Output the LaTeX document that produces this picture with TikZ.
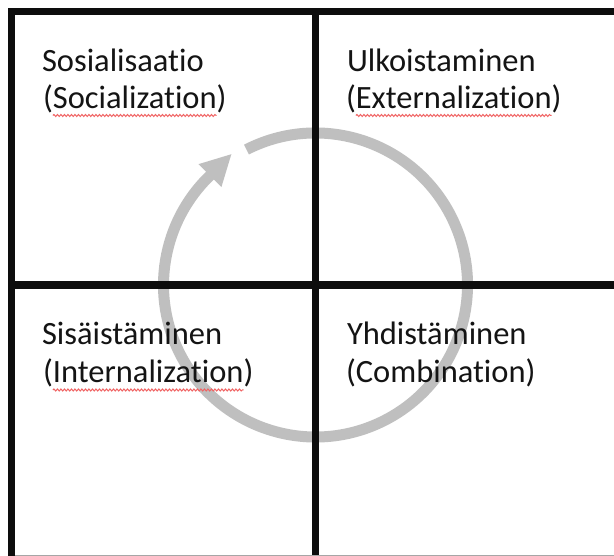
\documentclass[tikz,border=0pt]{standalone}
\usepackage{fontspec}
\setmainfont{Carlito}[Ligatures={NoCommon}]
\usetikzlibrary{arrows.meta,decorations.pathmorphing}
\definecolor{ringgray}{RGB}{191,191,191}
\definecolor{gridblack}{RGB}{13,13,13}
\definecolor{spellred}{RGB}{240,100,100}
\tikzset{
  lbl/.style={inner sep=0pt, outer sep=0pt, anchor=base west, font=\fontsize{32.5}{38}\selectfont, text=black!92},
  gridline/.style={draw=gridblack, line width=7.5pt},
  ring/.style={draw=ringgray, line width=11pt},
  squig/.style={draw=spellred, line width=1pt, decorate,
    decoration={snake, segment length=3.5pt, amplitude=1pt}},
}
\begin{document}
\begin{tikzpicture}[x=1pt,y=1pt]
  \useasboundingbox (0,0) rectangle (614,556);
  \fill[white] (0,0) rectangle (614,556);

  % circular cycle arrow, centred on the crossing of the grid
  \coordinate (c) at (315.5,271);
  \draw[ring, -{Triangle[length=31pt,width=30pt]}]
    (c) ++(117:152) arc[start angle=117, end angle=-226, radius=152]
    -- ++(45:31);

  % grid lines
  \coordinate (tl) at (11.5,544.5);
  \coordinate (tr) at (614,544.5);
  \coordinate (bl) at (11.5,0);
  \coordinate (mt) at (315.5,544.5);
  \coordinate (mb) at (315.5,0);
  \coordinate (ml) at (11.5,271);
  \coordinate (mr) at (614,271);
  \draw[gridline] (tr) -- (tl) -- (bl);
  \draw[gridline] (mt) -- (mb);
  \draw[gridline] (ml) -- (mr);
  \draw[gray!70, line width=0.8pt] (15,0.6) -- (614,0.6);

  % quadrant labels
  \node[lbl] (soc1) at (42,484) {Sosialisaatio};
  \node[lbl] (soc2a) at (43,447.5) {(};
  \node[lbl] (soc2b) at (soc2a.base east) {Socialization};
  \node[lbl] (soc2c) at (soc2b.base east) {)};

  \node[lbl] (ext1) at (347,484) {Ulkoistaminen};
  \node[lbl] (ext2a) at (346,447.5) {(};
  \node[lbl] (ext2b) at (ext2a.base east) {Externalization};
  \node[lbl] (ext2c) at (ext2b.base east) {)};

  \node[lbl] (int1) at (42,211) {Sisäistäminen};
  \node[lbl] (int2a) at (43,173) {(};
  \node[lbl] (int2b) at (int2a.base east) {Internalization};
  \node[lbl] (int2c) at (int2b.base east) {)};

  \node[lbl] (com1) at (347,211) {Yhdistäminen};
  \node[lbl] (com2) at (346,173) {(Combination)};

  % spell-check underlines
  \draw[squig] ([yshift=-7pt]soc2b.base west) -- ([yshift=-7pt]soc2b.base east);
  \draw[squig] ([yshift=-7pt]ext2b.base west) -- ([yshift=-7pt]ext2b.base east);
  \draw[squig] ([yshift=-7pt]int2b.base west) -- ([yshift=-7pt]int2b.base east);
\end{tikzpicture}
\end{document}
